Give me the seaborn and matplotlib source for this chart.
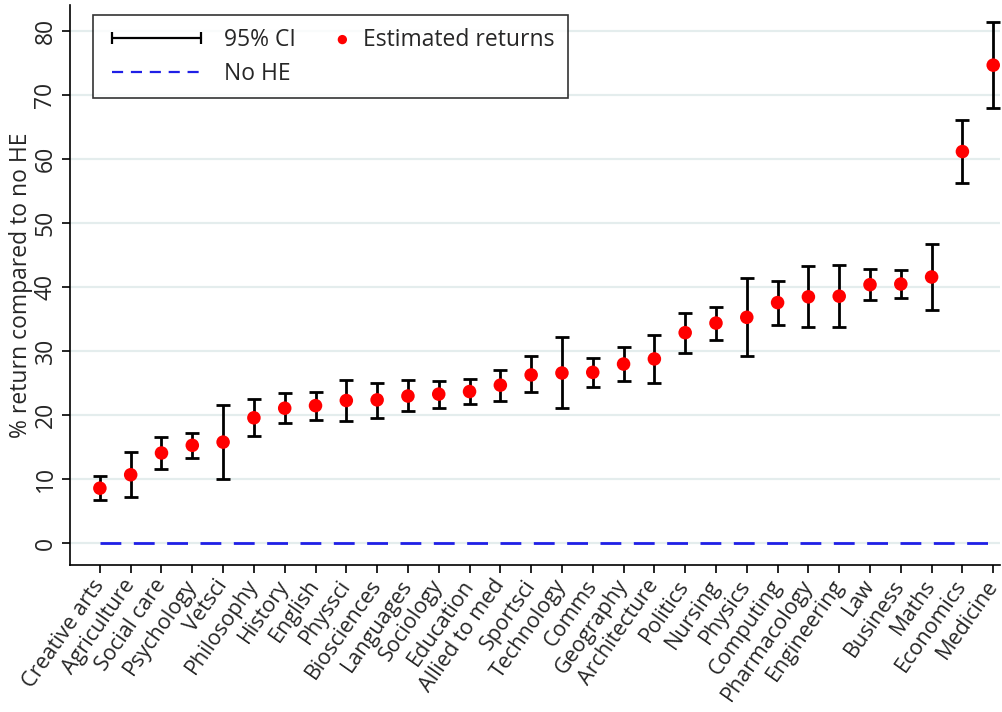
import numpy as np
import pandas as pd
import matplotlib
matplotlib.use("Agg")
import matplotlib.pyplot as plt
import seaborn as sns
from matplotlib.lines import Line2D
from matplotlib.legend_handler import HandlerPathCollection

categories = ["Creative arts", "Agriculture", "Social care", "Psychology", "Vetsci",
              "Philosophy", "History", "English", "Physsci", "Biosciences",
              "Languages", "Sociology", "Education", "Allied to med", "Sportsci",
              "Technology", "Comms", "Geography", "Architecture", "Politics",
              "Nursing", "Physics", "Computing", "Pharmacology", "Engineering",
              "Law", "Business", "Maths", "Economics", "Medicine"]
estimate = [8.6, 10.7, 14.1, 15.3, 15.8, 19.6, 21.1, 21.5, 22.3, 22.4,
            23.0, 23.3, 23.7, 24.7, 26.3, 26.6, 26.7, 28.0, 28.8, 32.9,
            34.4, 35.3, 37.6, 38.5, 38.6, 40.4, 40.5, 41.6, 61.2, 74.7]
ci_low = [6.8, 7.3, 11.6, 13.3, 10.0, 16.8, 18.8, 19.2, 19.1, 19.6,
          20.6, 21.2, 21.8, 22.3, 23.6, 21.1, 24.4, 25.4, 25.1, 29.8,
          31.8, 29.2, 34.1, 33.8, 33.8, 38.0, 38.3, 36.5, 56.3, 68.0]
ci_high = [10.5, 14.2, 16.6, 17.2, 21.6, 22.5, 23.4, 23.6, 25.5, 25.1,
           25.5, 25.4, 25.6, 27.0, 29.2, 32.2, 29.0, 30.6, 32.5, 36.0,
           36.9, 41.5, 41.0, 43.3, 43.5, 42.8, 42.7, 46.7, 66.2, 81.4]
yticks = [0, 10, 20, 30, 40, 50, 60, 70, 80]

df = pd.DataFrame({"subject": categories, "est": estimate,
                   "lo": ci_low, "hi": ci_high})
df["pos"] = np.arange(len(df))
df["nohe"] = 0.0

sns.set_theme(style="white")
plt.rcParams["font.family"] = ["Open Sans", "DejaVu Sans"]

FS = 16.5
FSX = 15.5

fig = plt.figure(figsize=(10.02, 7.12), dpi=100)
ax = fig.add_axes([70 / 1002, 1 - 565 / 712, (1000 - 70) / 1002, (565 - 5) / 712])

for y in yticks:
    ax.axhline(y, color="#e4eded", lw=1.6, zorder=0)

sns.lineplot(data=df, x="pos", y="nohe", ax=ax, color="#1f1fe6", lw=2,
             dashes=False, zorder=2)
ax.lines[-1].set_dashes([7.5, 4.5])

ax.errorbar(df["pos"], df["est"],
            yerr=[df["est"] - df["lo"], df["hi"] - df["est"]],
            fmt="none", ecolor="black", elinewidth=2, capsize=5, capthick=2,
            zorder=3)
sns.scatterplot(data=df, x="pos", y="est", ax=ax, color="red", s=95,
                edgecolor="none", zorder=4)

ax.set_xlim(-0.97, 29.22)
ax.set_ylim(-3.4, 84.1)
ax.set_yticks(yticks)
ax.set_yticklabels([str(v) for v in yticks], rotation=90, va="center",
                   fontsize=FS)
ax.set_xticks(df["pos"])
ax.set_xticklabels(categories, rotation=55, ha="right", va="center",
                   rotation_mode="anchor", fontsize=FSX)
ax.set_xlabel("")
ax.set_ylabel("% return compared to no HE", fontsize=FS, labelpad=0)
ax.tick_params(axis="y", which="both", direction="out", length=6,
               width=1.2, color="black", left=True, pad=3)
ax.tick_params(axis="x", which="both", direction="out", length=6,
               width=1.2, color="black", bottom=True, pad=6)
for s in ["top", "right"]:
    ax.spines[s].set_visible(False)
for s in ["left", "bottom"]:
    ax.spines[s].set_color("black")
    ax.spines[s].set_linewidth(1.2)
ax.grid(False)


class RightDot(HandlerPathCollection):
    def get_xdata(self, legend, xdescent, ydescent, width, height, fontsize):
        x = [-xdescent + width - 0.22 * fontsize]
        return x, x


ci_handle = Line2D([], [], color="black", lw=1.6, marker="|",
                   markersize=9, markeredgewidth=1.6)
nohe_handle = Line2D([], [], color="#1f1fe6", lw=1.6, dashes=[5, 3.5])
dot_handle = ax.scatter([], [], color="red", s=45, edgecolor="none")

leg = fig.legend([ci_handle, nohe_handle, dot_handle],
                 ["95% CI", "No HE", "Estimated returns"],
                 ncol=2, loc="upper left",
                 bbox_to_anchor=(93 / 1002, 1 - 15 / 712),
                 bbox_transform=fig.transFigure, borderaxespad=0,
                 numpoints=2, scatterpoints=1, handlelength=4.45,
                 handletextpad=0.7, columnspacing=-2.18, labelspacing=0.44,
                 borderpad=0.55, fontsize=FS, frameon=True, fancybox=False,
                 handler_map={type(dot_handle): RightDot()})
leg.get_frame().set_edgecolor("black")
leg.get_frame().set_linewidth(1.2)

fig.savefig("out.png", dpi=100, facecolor="white")
